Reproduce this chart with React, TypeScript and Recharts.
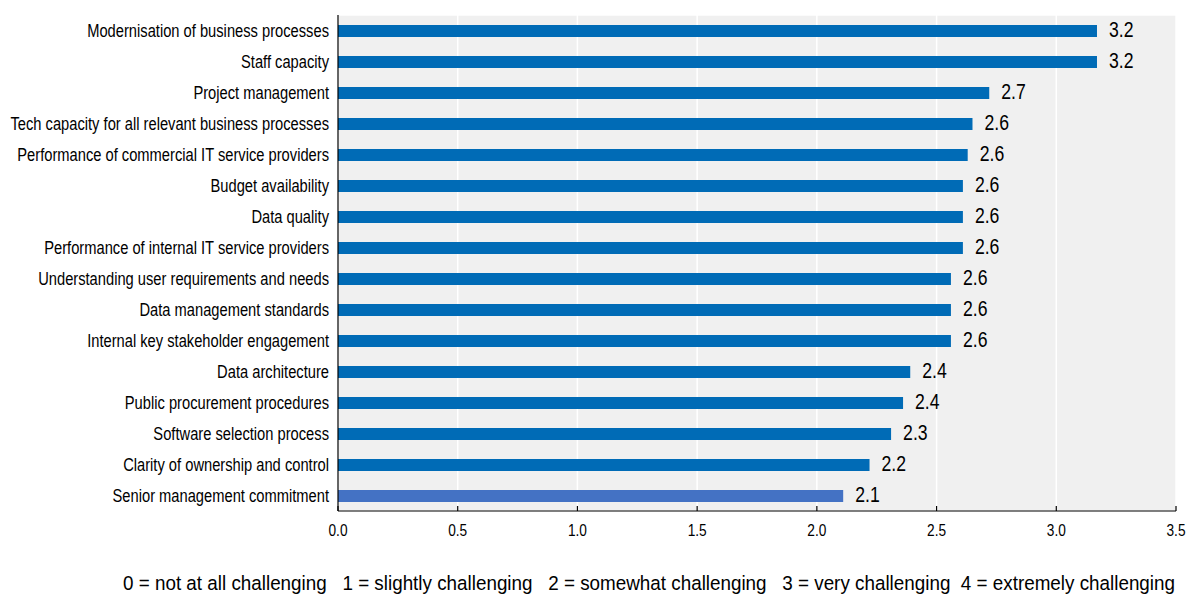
import React from 'react';
import { BarChart, Bar, XAxis, YAxis, CartesianGrid, LabelList, Cell } from 'recharts';

const categories = [
  'Modernisation of business processes',
  'Staff capacity',
  'Project management',
  'Tech capacity for all relevant business processes',
  'Performance of commercial IT service providers',
  'Budget availability',
  'Data quality',
  'Performance of internal IT service providers',
  'Understanding user requirements and needs',
  'Data management standards',
  'Internal key stakeholder engagement',
  'Data architecture',
  'Public procurement procedures',
  'Software selection process',
  'Clarity of ownership and control',
  'Senior management commitment',
];

const values = [3.17, 3.17, 2.72, 2.65, 2.63, 2.61, 2.61, 2.61, 2.56, 2.56, 2.56, 2.39, 2.36, 2.31, 2.22, 2.11];

const xTicks = [0, 0.5, 1, 1.5, 2, 2.5, 3, 3.5];

const note = '0 = not at all challenging   1 = slightly challenging   2 = somewhat challenging   3 = very challenging  4 = extremely challenging';

const highlighted = 'Senior management commitment';

const data = categories.map((name, i) => ({ name, value: values[i] }));
const boundaryTicks = Array.from({ length: categories.length + 1 }, (_, i) => i);

const FONT = '"Liberation Sans", Arial, sans-serif';
const BLUE = '#006BB6';
const LIGHT = '#4472C4';

function NarrowText(props: { x: number; y: number; anchor: string; size: number; dy: string; text: string; scale: number }) {
  const { x, y, anchor, size, dy, text, scale } = props;
  return (
    <g transform={`translate(${x},${y}) scale(${scale},1)`}>
      <text x={0} y={0} dy={dy} textAnchor={anchor as any} fontSize={size} fontFamily={FONT} fill="#000">
        {text}
      </text>
    </g>
  );
}

const CategoryTick = (props: any) => {
  const { x, y, payload } = props;
  return <NarrowText x={x} y={y} anchor="end" size={17.5} dy="0.355em" scale={0.84} text={String(payload.value)} />;
};

const ValueTick = (props: any) => {
  const { x, y, payload } = props;
  return <NarrowText x={x} y={y} anchor="middle" size={16.7} dy="0.71em" scale={0.82} text={Number(payload.value).toFixed(1)} />;
};

const BarValue = (props: any) => {
  const { x, y, width, height, value } = props;
  return (
    <NarrowText
      x={Number(x) + Number(width) + 12}
      y={Number(y) + Number(height) / 2}
      anchor="start"
      size={21.5}
      dy="0.3em"
      scale={0.82}
      text={Number(value).toFixed(1)}
    />
  );
};

export default function App() {
  return (
    <div style={{ position: 'absolute', left: 0, top: 0, width: 1190, height: 597, background: '#fff', overflow: 'hidden' }}>
      <BarChart
        width={1190}
        height={597}
        data={data}
        layout="vertical"
        margin={{ top: 15, right: 14, bottom: 56, left: 0 }}
        barSize={12}
      >
        <CartesianGrid
          yAxisId="grid"
          fill="#f0f0f0"
          fillOpacity={1}
          stroke="#ffffff"
          strokeWidth={1.5}
        />
        <XAxis
          type="number"
          domain={[0, 3.5]}
          ticks={xTicks}
          height={30}
          tickSize={-5}
          tickMargin={18}
          axisLine={{ stroke: '#000', strokeWidth: 1.2 }}
          tickLine={{ stroke: '#000', strokeWidth: 1.2 }}
          tick={<ValueTick />}
          allowDataOverflow
        />
        <YAxis
          type="category"
          dataKey="name"
          width={338}
          interval={0}
          tickLine={false}
          tickSize={0}
          tickMargin={9}
          axisLine={{ stroke: '#000', strokeWidth: 1.2 }}
          tick={<CategoryTick />}
        />
        <YAxis
          yAxisId="grid"
          type="number"
          domain={[0, categories.length]}
          ticks={boundaryTicks}
          width={0}
          tick={false}
          tickSize={-5}
          axisLine={false}
          tickLine={{ stroke: '#000', strokeWidth: 1.2 }}
          reversed
        />
        <Bar dataKey="value" isAnimationActive={false}>
          {data.map((d) => (
            <Cell key={d.name} fill={d.name === highlighted ? LIGHT : BLUE} />
          ))}
          <LabelList dataKey="value" content={<BarValue />} />
        </Bar>
      </BarChart>
      <svg width={1190} height={597} style={{ position: 'absolute', left: 0, top: 0, pointerEvents: 'none' }}>
        <g transform="translate(123,590) scale(1,1.1)">
          <text
            x={0}
            y={0}
            fontSize={18.8}
            fontFamily={FONT}
            fill="#000"
            textLength={1052}
            lengthAdjust="spacingAndGlyphs"
            style={{ whiteSpace: 'pre' }}
          >
            {note}
          </text>
        </g>
      </svg>
    </div>
  );
}
